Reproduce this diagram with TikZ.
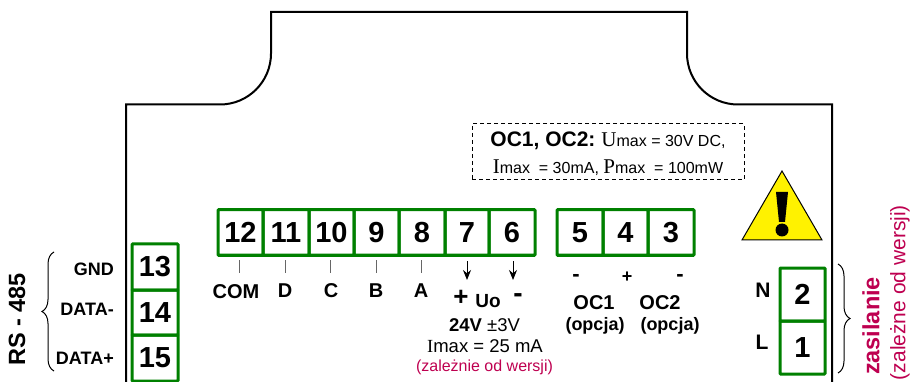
\documentclass[tikz,border=0pt]{standalone}
\usepackage{fontspec}
\setmainfont{Liberation Sans}
\newfontfamily\timesf{Liberation Serif}
\usetikzlibrary{arrows.meta,decorations.pathreplacing}
\newcommand{\fs}[1]{\fontsize{#1}{#1}\selectfont}
\definecolor{termgreen}{RGB}{0,128,0}
\definecolor{notecol}{RGB}{190,0,80}
\tikzset{
  term/.style={draw=termgreen, line width=3pt, rounded corners=0.8pt, inner sep=0pt, font=\fs{29}\bfseries},
  lab/.style={inner sep=0pt, font=\fs{20}\bfseries},
  small/.style={inner sep=0pt, font=\fs{18}\bfseries},
  note/.style={inner sep=0pt, text=notecol},
  tick/.style={draw=black!60, line width=1pt},
  pin/.style={line width=1pt, -{Stealth[length=10pt,width=8pt]}},
  bracket/.style={line width=1pt, decorate, decoration={brace,amplitude=12pt}}
}
\begin{document}
\begin{tikzpicture}[x=1pt,y=-1pt]
  \useasboundingbox (0,0) rectangle (913,382);
  % housing
  \draw[line width=2pt] (126,382) -- (126,104.5) -- (220,104.5) arc[start angle=90, end angle=0, radius=51]
    -- (271,12) -- (687,12) -- (687,53.5) arc[start angle=180, end angle=90, radius=51] -- (832,104.5) -- (832,382);
  % terminals
  \foreach \n/\x/\w in {12/240.5/45, 11/286/46, 10/331.5/45, 9/376.5/45, 8/422/46, 7/467/44, 6/512/46, 5/580/46, 4/625.5/45, 3/671/46}
    \node[term, minimum width=\w pt, minimum height=45.5pt] (t\n) at (\x,232.5) {\n};
  \foreach \n/\y/\h in {13/267/46, 14/312.5/45, 15/358/46}
    \node[term, minimum width=46pt, minimum height=\h pt] (t\n) at (155,\y) {\n};
  \foreach \n/\y in {2/294.5, 1/347.5}
    \node[term, minimum width=45pt, minimum height=53pt] (t\n) at (802.5,\y) {\n};
  % signal names
  \node[lab] (com) at (236,292) {COM};
  \node[lab] (d) at (285,291) {D};
  \node[lab] (c) at (331,291) {C};
  \node[lab] (b) at (376,291) {B};
  \node[lab] (a) at (421,291) {A};
  \foreach \x/\m in {239/a, 285/b, 330/c, 376/d, 421/e} {
    \coordinate (up\m) at (\x,260);
    \coordinate (dn\m) at (\x,273);
    \draw[tick] (up\m) -- (dn\m);
  }
  % output
  \coordinate (p7) at (467,261);
  \coordinate (q7) at (467,280);
  \coordinate (p6) at (513,261);
  \coordinate (q6) at (513,280);
  \draw[pin] (p7) -- (q7);
  \draw[pin] (p6) -- (q6);
  \node[inner sep=0pt, font=\fs{26}\bfseries] (plus) at (461,298) {+};
  \node[inner sep=0pt, font=\fs{19}\bfseries] (uo) at (488,301) {Uo};
  \node[inner sep=0pt, font=\fs{28}\bfseries] (minus) at (518,298) {-};
  \node[inner sep=0pt, font=\fs{18.5}] (volt) at (484.5,325) {\textbf{24V} ±3V};
  \node[inner sep=0pt, font=\fs{18.5}] (imax) at (485,346) {{\timesf I}max = 25 mA};
  \node[note, font=\fs{16}] (wer) at (484.5,367) {(zależnie od wersji)};
  % open collector
  \node[inner sep=0pt, font=\fs{22}\bfseries] (m5) at (576,278) {-};
  \node[small] (p4) at (627,277) {+};
  \node[inner sep=0pt, font=\fs{22}\bfseries] (m3) at (680,278) {-};
  \node[lab] (oc1) at (594,303) {OC1};
  \node[lab] (oc2) at (660,303) {OC2};
  \node[small] (op1) at (595,326) {(opcja)};
  \node[small] (op2) at (670,326) {(opcja)};
  \node[draw, dash pattern=on 4pt off 3pt, line width=1pt, minimum width=272pt, minimum height=56pt, inner sep=0pt] (box) at (608,152) {};
  \node[inner sep=0pt, font=\fs{16}] (l1) at (608,141) {{\fs{21}\bfseries OC1, OC2:} {\timesf\fs{21}U}max = 30V DC,};
  \node[inner sep=0pt, font=\fs{16}] (l2) at (608,168) {{\timesf\fs{21}I}max\; = 30mA, {\timesf\fs{21}P}max\; = 100mW};
  % warning
  \draw[fill=yellow, line width=1pt] (782,171) -- (822,240) -- (742,240) -- cycle;
  \fill (776,192) -- (788,192) -- (785,222) -- (779,222) -- cycle;
  \fill (782,230) circle[radius=6.5];
  % left group
  \node[small, anchor=east] (gnd) at (114,269) {GND};
  \node[small, anchor=east] (dm) at (114,309) {DATA-};
  \node[small, anchor=east] (dp) at (114,358) {DATA+};
  \node[inner sep=0pt, rotate=90, font=\fs{23.5}\bfseries] (rs) at (17,319.5) {RS - 485};
  \coordinate (bl1) at (54,252);
  \coordinate (bl2) at (54,371);
  \draw[bracket] (bl2) -- (bl1);
  % supply
  \node[lab, font=\fs{21}\bfseries] (n) at (763,290) {N};
  \node[lab, font=\fs{21}\bfseries] (l) at (762,342) {L};
  \coordinate (br1) at (838,264);
  \coordinate (br2) at (838,373);
  \draw[bracket] (br1) -- (br2);
  \node[note, rotate=90, font=\fs{23.5}\bfseries] (zas) at (871,326) {zasilanie};
  \node[note, rotate=90, font=\fs{21}] (zal) at (900,292.5) {(zależne od wersji)};
\end{tikzpicture}
\end{document}
